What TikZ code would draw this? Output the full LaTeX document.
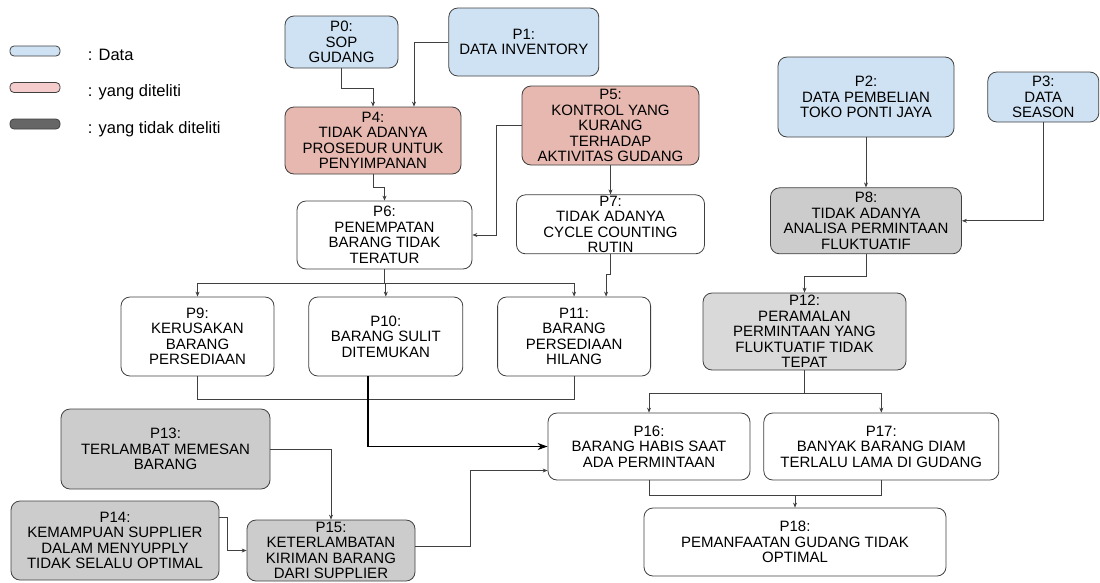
\documentclass[tikz,border=0pt]{standalone}
\usepackage{fontspec}
\setmainfont{Liberation Sans}
\usetikzlibrary{arrows.meta,positioning,calc}
\definecolor{datablue}{RGB}{207,226,243}
\definecolor{keypink}{RGB}{244,204,204}
\definecolor{studiedred}{RGB}{230,184,175}
\definecolor{skipgray}{RGB}{204,204,204}
\definecolor{palegray}{RGB}{217,217,217}
\definecolor{keydark}{RGB}{102,102,102}
\definecolor{edgegray}{RGB}{64,64,64}

\begin{document}
\begin{tikzpicture}[
  x=1pt, y=-1pt,
  box/.style={draw=edgegray, rounded corners=9pt, align=center, inner sep=1pt, line width=0.8pt, font=\fontsize{15}{15.5}\selectfont},
  key/.style={draw=edgegray, rounded corners=4pt, minimum width=50pt, minimum height=10pt, inner sep=0pt, line width=0.8pt},
  keytext/.style={anchor=base west, font=\fontsize{16.5}{18}\selectfont},
  arr/.style={-{Stealth[length=5pt,width=4pt]}, draw=edgegray, line width=0.7pt},
  bigarr/.style={-{Stealth[length=10pt,width=7pt]}, draw=black, line width=1.6pt},
  link/.style={draw=edgegray, line width=0.7pt}
]
\useasboundingbox (0,0) rectangle (1100,582);

\node[key, fill=datablue] (k1) at (35,51) {};
\node[key, fill=keypink] (k2) at (35,87.5) {};
\node[key, fill=keydark] (k3) at (35,124) {};
\node[keytext] (t1) at ($(k1.east)+(24,9)$) {: Data};
\node[keytext] (t2) at ($(k2.east)+(24,9)$) {: yang diteliti};
\node[keytext] (t3) at ($(k3.east)+(24,9)$) {: yang tidak diteliti};

\node[box, fill=datablue, minimum width=113pt, minimum height=52pt] (p0) at (341.5,42) {P0:\\SOP\\GUDANG};
\node[box, fill=datablue, minimum width=150pt, minimum height=68pt, right=50pt of p0] (p1) {P1:\\DATA INVENTORY};
\node[box, fill=datablue, minimum width=176pt, minimum height=80pt] (p2) at (866,97) {P2:\\DATA PEMBELIAN\\TOKO PONTI JAYA};
\node[box, fill=datablue, minimum width=111pt, minimum height=50pt, right=33pt of p2] (p3) {P3:\\DATA\\SEASON};

\node[box, fill=studiedred, minimum width=176pt, minimum height=67pt] (p4) at (373,140.5) {P4:\\TIDAK ADANYA\\PROSEDUR UNTUK\\PENYIMPANAN};
\node[box, fill=studiedred, minimum width=177pt, minimum height=79pt] (p5) at (610.5,125.5) {P5:\\KONTROL YANG\\KURANG\\TERHADAP\\AKTIVITAS GUDANG};

\node[box, fill=white, minimum width=175pt, minimum height=68pt] (p6) at (384.5,235) {P6:\\PENEMPATAN\\BARANG TIDAK\\TERATUR};
\node[box, fill=white, minimum width=188pt, minimum height=59pt, below=29pt of p5] (p7) {P7:\\TIDAK ADANYA\\CYCLE COUNTING\\RUTIN};
\node[box, fill=skipgray, minimum width=191pt, minimum height=66pt, below=50pt of p2] (p8) {P8:\\TIDAK ADANYA\\ANALISA PERMINTAAN\\FLUKTUATIF};

\node[box, fill=white, minimum width=153pt, minimum height=79pt] (p9) at (197.5,336.5) {P9:\\KERUSAKAN\\BARANG\\PERSEDIAAN};
\node[box, fill=white, minimum width=154pt, minimum height=79pt, right=34pt of p9] (p10) {P10:\\BARANG SULIT\\DITEMUKAN};
\node[box, fill=white, minimum width=153pt, minimum height=79pt, right=34pt of p10] (p11) {P11:\\BARANG\\PERSEDIAAN\\HILANG};
\node[box, fill=palegray, minimum width=203pt, minimum height=77pt] (p12) at (804.5,331.5) {P12:\\PERAMALAN\\PERMINTAAN YANG\\FLUKTUATIF TIDAK\\TEPAT};

\node[box, fill=skipgray, minimum width=209pt, minimum height=80pt] (p13) at (165.5,449) {P13:\\TERLAMBAT MEMESAN\\BARANG};
\node[box, fill=skipgray, minimum width=208pt, minimum height=79pt] (p14) at (115,540.5) {P14:\\KEMAMPUAN SUPPLIER\\DALAM MENYUPPLY\\TIDAK SELALU OPTIMAL};
\node[box, fill=skipgray, minimum width=168pt, minimum height=61pt] (p15) at (331,550.5) {P15:\\KETERLAMBATAN\\KIRIMAN BARANG\\DARI SUPPLIER};

\node[box, fill=white, minimum width=202pt, minimum height=67pt] (p16) at (649,446.5) {P16:\\BARANG HABIS SAAT\\ADA PERMINTAAN};
\node[box, fill=white, minimum width=235pt, minimum height=67pt, right=13pt of p16] (p17) {P17:\\BANYAK BARANG DIAM\\TERLALU LAMA DI GUDANG};
\node[box, fill=white, minimum width=302pt, minimum height=68pt] (p18) at (795,542) {P18:\\PEMANFAATAN GUDANG TIDAK\\OPTIMAL};

\draw[arr] (p0.south) -- ++(0,20) -| (p4.north);
\draw[arr] (p1.west) -| ([xshift=41pt]p4.north);
\draw[arr] (p4.south) -- ++(0,13) -| (p6.north);
\draw[arr] (p5.west) -- ++(-25,0) |- (p6.east);
\draw[arr] (p5.south) -- (p7.north);
\draw[arr] (p6.south) -- ++(0,14) -| (p9.north);
\draw[arr] (p6.south) -- ++(0,14) -| (p10.north);
\draw[arr] (p6.south) -- ++(0,14) -| (p11.north);
\draw[arr] (p7.south) -- ++(0,20) -| ([xshift=32pt]p11.north);
\draw[link] (p9.south) -- ++(0,23) -| (p11.south);
\draw[bigarr] ([xshift=-18pt]p10.south) |- (p16.west);
\draw[arr] (p2.south) -- (p8.north);
\draw[arr] (p3.south) |- (p8.east);
\draw[arr] (p8.south) -- ++(0,22) -| (p12.north);
\draw[arr] (p12.south) -- ++(0,23) -| (p16.north);
\draw[arr] (p12.south) -- ++(0,23) -| (p17.north);
\draw[link] (p16.south) -- ++(0,15) coordinate (j18) -| (p17.south);
\draw[arr] (p18.north |- j18) -- (p18.north);
\draw[arr] (p13.east) -| (p15.north);
\draw[arr] ([yshift=23pt]p14.east) -- ++(8,0) |- (p15.west);
\draw[arr] ([yshift=4pt]p15.east) -- ++(55,0) |- ([yshift=-24pt]p16.west);
\end{tikzpicture}
\end{document}
